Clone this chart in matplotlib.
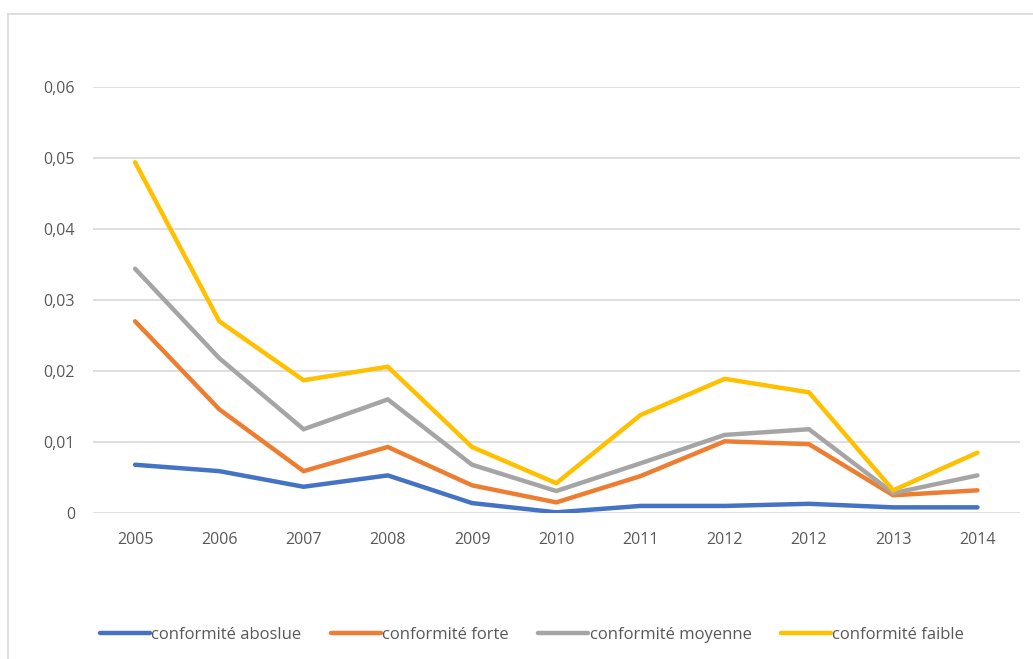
import matplotlib.pyplot as plt
from matplotlib.lines import Line2D
from matplotlib.ticker import FuncFormatter
import numpy as np

years = ['2005', '2006', '2007', '2008', '2009', '2010', '2011', '2012', '2012', '2013', '2014']
absolue = [0.0068, 0.0059, 0.0037, 0.0053, 0.0014, 0.0001, 0.0010, 0.0010, 0.0013, 0.0008, 0.0008]
forte = [0.0270, 0.0146, 0.0059, 0.0093, 0.0039, 0.0015, 0.0052, 0.0101, 0.0097, 0.0025, 0.0032]
moyenne = [0.0344, 0.0218, 0.0118, 0.0160, 0.0068, 0.0031, 0.0070, 0.0110, 0.0118, 0.0028, 0.0053]
faible = [0.0494, 0.0270, 0.0187, 0.0206, 0.0093, 0.0042, 0.0138, 0.0189, 0.0170, 0.0032, 0.0085]

labels = ['conformité aboslue', 'conformité forte', 'conformité moyenne', 'conformité faible']
colors = ['#4472C4', '#ED7D31', '#A5A5A5', '#FFC000']

plt.rcParams['font.family'] = ['Open Sans', 'DejaVu Sans']

fig = plt.figure(figsize=(10.33, 6.59), dpi=100)
ax = fig.add_axes([0.090, 0.2215, 0.897, 0.6465])

x = np.arange(len(years))
for series, lab, col in zip([absolue, forte, moyenne, faible], labels, colors):
    ax.plot(x, series, color=col, lw=3.2, label=lab, solid_capstyle='round', solid_joinstyle='miter')

ax.set_xlim(-0.5, len(years) - 0.5)
ax.set_ylim(0, 0.06)
ax.set_yticks(np.arange(0, 0.061, 0.01))
ax.yaxis.set_major_formatter(FuncFormatter(lambda v, p: '0' if v == 0 else f'{v:.2f}'.replace('.', ',')))
ax.set_xticks(x)
ax.set_xticklabels(years)
ax.grid(axis='y', color='#d9d9d9', lw=1.2)
ax.set_axisbelow(True)
for s in ax.spines.values():
    s.set_visible(False)
ax.tick_params(length=0, labelsize=11.5, colors='#595959')
ax.tick_params(axis='x', pad=14)
ax.tick_params(axis='y', pad=13)

# chart area border (left and top visible)
fig.add_artist(Line2D([8 / 1033, 8 / 1033], [0, 1 - 14 / 659], color='#d9d9d9', lw=1.2))
fig.add_artist(Line2D([8 / 1033, 1], [1 - 14 / 659, 1 - 14 / 659], color='#d9d9d9', lw=1.2))

fig.legend(loc='center', bbox_to_anchor=(0.515, 0.036), ncol=4, frameon=False,
           fontsize=12, handlelength=3.0, handletextpad=0.1, columnspacing=1.75,
           labelcolor='#595959')

fig.savefig('out.png', dpi=100, facecolor='white')
